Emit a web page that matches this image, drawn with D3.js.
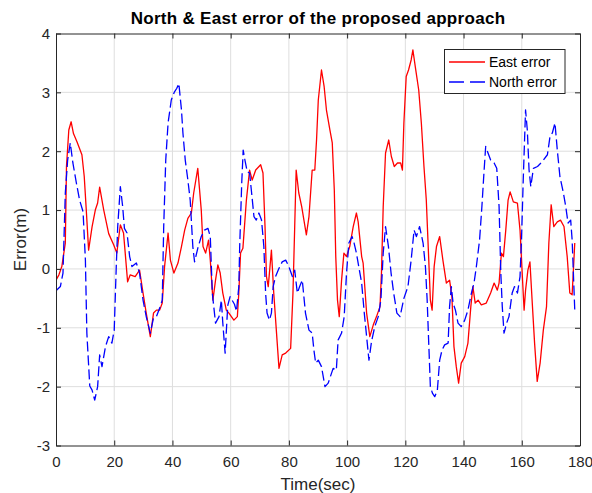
<!DOCTYPE html>
<html><head><meta charset="utf-8">
<script src="https://cdn.jsdelivr.net/npm/d3@7"></script>
<style>body{margin:0;background:#fff}svg{display:block}text{font-family:"Liberation Sans",Arial,sans-serif}</style>
</head><body><div id="chart"></div>
<script>
const xTicks=[0,20,40,60,80,100,120,140,160,180];
const yTicks=[-3,-2,-1,0,1,2,3,4];
const seriesNames=["East error","North error"];
const eastT=[0,1,2,3.2,3.6,4.4,5.2,6.0,7.2,8.9,9.7,10.4,11.2,12.4,13.5,14.3,15,16.4,18.1,19.8,20.9,22.1,23.2,24.6,25.5,27.2,28.7,29.9,31,32.4,33.5,34.5,35.6,36.5,37.3,38.5,39.3,40.5,41.9,43.1,44.2,45.3,46.5,47.3,48.7,49.9,50.5,51.4,52.4,53,53.9,54.8,55.6,56.4,57.3,58.5,59.4,61.1,62.3,62.8,63.4,64.2,65.4,66.5,67.4,68.6,70.3,71.1,71.8,72.3,72.9,73.7,74,74.8,75.6,76.6,77.7,78.9,80.6,81.4,82,82.5,83.4,84.4,86,86.9,88,88.9,89.5,90.1,91.2,92.1,92.9,94.1,94.9,95.6,96.1,96.7,97.3,98.1,98.9,99.8,100.9,102.1,103.2,103.8,105,105.5,106.7,107.8,109,110.1,111.3,111.8,112.4,113.2,114.3,115.2,116.2,117.3,118.4,119,119.5,120.3,121.1,122,122.6,123.4,124.6,125.5,126.4,127.2,128,128.6,129.2,129.9,130.7,131.8,132.9,134.1,135.2,136,136.7,137.5,138.3,139.2,140.4,141.5,142.5,143.2,144,145,146.1,147.8,149.3,150.5,151.6,152.2,153,153.7,154.5,155.3,156,157.1,158.5,159.4,160.2,160.8,161.3,162.1,162.8,163.6,164.4,165.3,166.3,167.4,168.5,169.3,170.1,171,172.2,173.3,174.5,175.6,176.5,177.3,178.2];
const eastV=[-0.19,-0.1,0.04,0.44,1.74,2.36,2.5,2.3,2.16,1.94,1.57,1.0,0.32,0.72,1.0,1.12,1.39,1.0,0.6,0.41,0.27,0.75,0.61,-0.22,-0.1,-0.13,-0.02,-0.41,-0.75,-1.15,-0.75,-0.7,-0.7,-0.58,0.04,0.61,0.15,-0.07,0.1,0.38,0.66,0.86,0.95,1.29,1.71,1.0,0.38,0.27,0.49,0.15,-0.53,-0.19,0.07,-0.07,-0.41,-0.7,-0.75,-0.87,-0.81,-0.41,0.27,0.35,1.17,1.68,1.51,1.68,1.77,1.63,0.72,-0.13,-0.3,0.15,0.32,-0.41,-0.98,-1.69,-1.46,-1.43,-1.35,-0.41,0.72,1.68,1.29,1.06,0.58,0.89,1.68,1.68,2.19,2.87,3.38,3.1,2.7,2.36,2.14,1.34,0.21,-0.53,-0.81,-0.19,0.27,0.21,0.38,0.72,0.95,0.8,0.21,0.1,-0.75,-1.15,-0.95,-0.81,-0.64,-0.07,1.06,1.97,2.19,1.91,1.74,1.8,1.8,1.68,2.48,3.27,3.38,3.55,3.72,3.44,3.04,2.48,1.74,1.17,0.21,-0.53,-0.7,0.04,0.38,0.55,0.15,-0.24,-0.19,-0.47,-1.32,-1.66,-1.94,-1.6,-1.49,-1.26,-0.64,-0.3,-0.58,-0.53,-0.61,-0.58,-0.41,-0.24,-0.36,-0.24,0.27,0.21,0.66,1.17,1.31,1.14,1.12,0.66,-0.13,-0.7,-0.36,-0.02,0.12,-0.58,-1.26,-1.91,-1.6,-1.04,-0.64,0.44,1.09,0.72,0.8,0.83,0.72,0.21,-0.41,-0.44,0.44];
const northT=[0,1.5,2.4,3.2,4.0,4.9,5.8,7,8.1,9.3,10.1,10.6,11.6,12.4,13.3,14.3,15,15.8,17,18.1,19.2,20,20.7,21.2,22.1,22.9,23.5,24.4,25.3,26.1,27.6,28.7,29.9,31,32.4,33.5,34.5,35.8,36.5,37,37.7,38.5,39.6,40.7,41.5,42.2,43.1,43.6,44.4,45.3,46.1,47,47.6,48.7,49.9,51,52.2,53,53.7,54.8,56,56.8,57.3,58.1,59,59.8,61.3,62,62.8,63.1,63.8,64.3,64.9,65.7,66.5,67.2,68,68.8,69.7,70.6,71.4,72,72.5,73.3,74,74.6,75.4,76.6,77.7,78.9,80,81.2,82,82.9,83.7,84.6,85.7,86.9,88,88.6,89.2,90.1,91.2,92.4,93.5,95.2,96.3,96.9,98.1,99,99.8,100.6,101.7,102.4,103.2,104,105,105.9,106.7,107.5,108.4,109.5,110.7,111.6,112.4,113.2,114.2,115.1,116,117.1,118.2,119.5,120.9,122,123,123.8,124.9,126.1,126.9,127.5,128,128.6,129.3,130.1,131,131.8,132.6,133.5,134.7,135.2,135.8,136.4,137.2,138.1,139.2,140.4,141.5,142.7,143.6,144.4,145.5,146.3,147,147.6,148.4,149.3,150.5,151.4,152.2,152.8,153.3,153.9,154.8,155.6,156.7,157.5,158.5,159.4,159.9,160.5,161.3,161.9,162.5,163.1,164,165.4,167,168.8,169.7,170.5,171.4,172.2,173.1,174.3,175.1,175.9,176.8,177.3,178.2];
const northV=[-0.37,-0.3,-0.07,1.29,1.85,2.14,1.8,1.46,1.17,0.97,0.15,-1.09,-1.99,-2.06,-2.23,-2.0,-1.46,-1.66,-1.32,-1.15,-1.26,-1.04,0.04,0.72,1.4,1.06,0.69,0.61,0.21,0.04,0.1,-0.07,-0.53,-0.81,-1.09,-0.83,-0.81,-0.64,-0.53,0.72,1.85,2.48,2.87,3.01,3.07,3.15,2.7,2.31,1.85,1.51,1.17,0.38,0.12,0.35,0.55,0.66,0.69,0.55,-0.41,-0.92,-0.81,-0.53,-0.92,-1.43,-0.62,-0.47,-0.6,-0.72,-0.3,0.38,1.46,2.02,1.85,1.65,1.63,1.29,0.89,0.83,0.95,0.83,0.38,-0.41,-0.75,-0.87,-0.75,-0.3,-0.13,0.01,0.12,0.15,0.04,-0.13,-0.02,-0.41,-0.3,-0.19,-0.75,-1.04,-1.09,-1.38,-1.6,-1.55,-1.66,-2.0,-1.94,-1.69,-1.72,-1.21,-1.09,-0.81,-0.07,0.44,0.55,0.44,0.27,0.04,-0.24,-0.75,-1.15,-1.55,-1.23,-0.98,-0.81,-0.53,0.27,0.72,0.38,-0.07,-0.41,-0.75,-0.81,-0.5,-0.3,0.15,0.66,0.55,0.72,0.44,0.04,-0.53,-1.21,-2.0,-2.11,-2.17,-2.06,-1.55,-1.38,-1.29,-1.26,-0.64,-0.3,-0.58,-0.7,-0.92,-0.98,-0.87,-0.7,-0.41,-0.24,0.04,0.49,1.06,1.63,2.08,1.97,1.85,1.8,1.71,1.06,-0.07,-0.64,-1.09,-0.92,-0.81,-0.41,-0.3,-0.41,-0.13,0.49,1.51,2.7,2.36,1.68,1.4,1.71,1.74,1.82,1.94,2.25,2.31,2.48,2.02,1.57,1.29,1.06,0.78,0.83,0.49,-0.7];

const W=592,H=493;
const L=56,R=580,T=33.5,B=445.5;
const svg=d3.select("#chart").append("svg").attr("width",W).attr("height",H);
const x=d3.scaleLinear().domain([0,180]).range([L,R]);
const y=d3.scaleLinear().domain([-3,4]).range([B,T]);
const axisColor="#262626";

// grid
const g=svg.append("g");
g.selectAll("line.vx").data(xTicks.slice(1,-1)).enter().append("line")
 .attr("x1",d=>x(d)).attr("x2",d=>x(d)).attr("y1",T).attr("y2",B)
 .attr("stroke","#dedede").attr("stroke-width",1);
g.selectAll("line.hy").data(yTicks.slice(1,-1)).enter().append("line")
 .attr("y1",d=>y(d)).attr("y2",d=>y(d)).attr("x1",L).attr("x2",R)
 .attr("stroke","#dedede").attr("stroke-width",1);

svg.append("clipPath").attr("id","clip").append("rect").attr("x",L).attr("y",T).attr("width",R-L).attr("height",B-T);

const line=d3.line().x(d=>x(d[0])).y(d=>y(d[1]));
const eastData=eastT.map((t,i)=>[t,eastV[i]]);
const northData=northT.map((t,i)=>[t,northV[i]]);
const plot=svg.append("g").attr("clip-path","url(#clip)");
plot.append("path").datum(eastData).attr("d",line).attr("fill","none").attr("stroke","#ff0000").attr("stroke-width",1.3).attr("stroke-linejoin","round");
plot.append("path").datum(northData).attr("d",line).attr("fill","none").attr("stroke","#0000ff").attr("stroke-width",1.3).attr("stroke-dasharray","10,4").attr("stroke-linejoin","round");

// axes
function style(sel){sel.select(".domain").attr("stroke",axisColor);sel.selectAll(".tick line").attr("stroke",axisColor);sel.selectAll("text").attr("fill",axisColor).style("font-size","15px").style("font-family","'Liberation Sans',Arial,sans-serif");}
const fmt=d=>String(d);
svg.append("g").attr("transform",`translate(0,${B})`).call(d3.axisBottom(x).tickValues(xTicks).tickFormat(fmt).tickSize(-5).tickSizeOuter(0).tickPadding(11)).call(style);
svg.append("g").attr("transform",`translate(0,${T})`).call(d3.axisTop(x).tickValues(xTicks).tickSize(-5).tickSizeOuter(0).tickFormat("")).call(style);
svg.append("g").attr("transform",`translate(${L},0)`).call(d3.axisLeft(y).tickValues(yTicks).tickFormat(fmt).tickSize(-5).tickSizeOuter(0).tickPadding(6)).call(style);
svg.append("g").attr("transform",`translate(${R},0)`).call(d3.axisRight(y).tickValues(yTicks).tickSize(-5).tickSizeOuter(0).tickFormat("")).call(style);

// titles
svg.append("text").attr("x",(L+R)/2).attr("y",24).attr("text-anchor","middle").style("font-size","17px").style("letter-spacing","0.3px").style("font-weight","bold").attr("fill","#000").text("North & East error of the proposed approach");
svg.append("text").attr("x",(L+R)/2).attr("y",490).attr("text-anchor","middle").style("font-size","17px").attr("fill",axisColor).text("Time(sec)");
svg.append("text").attr("transform",`translate(26,${(T+B)/2}) rotate(-90)`).attr("text-anchor","middle").style("font-size","17px").attr("fill",axisColor).text("Error(m)");

// legend
const lg=svg.append("g");
lg.append("rect").attr("x",444.5).attr("y",49.5).attr("width",120.5).attr("height",44).attr("fill","#fff").attr("stroke",axisColor).attr("stroke-width",1);
const lgColors=["#ff0000","#0000ff"],lgDash=[null,"15,6"];
seriesNames.forEach((n,i)=>{
  const yy=62+i*20;
  lg.append("line").attr("x1",449).attr("x2",485).attr("y1",yy).attr("y2",yy).attr("stroke",lgColors[i]).attr("stroke-width",1.3).attr("stroke-dasharray",lgDash[i]);
  lg.append("text").attr("x",489).attr("y",yy+5).style("font-size","14px").attr("fill","#000").text(n);
});
</script></body></html>
